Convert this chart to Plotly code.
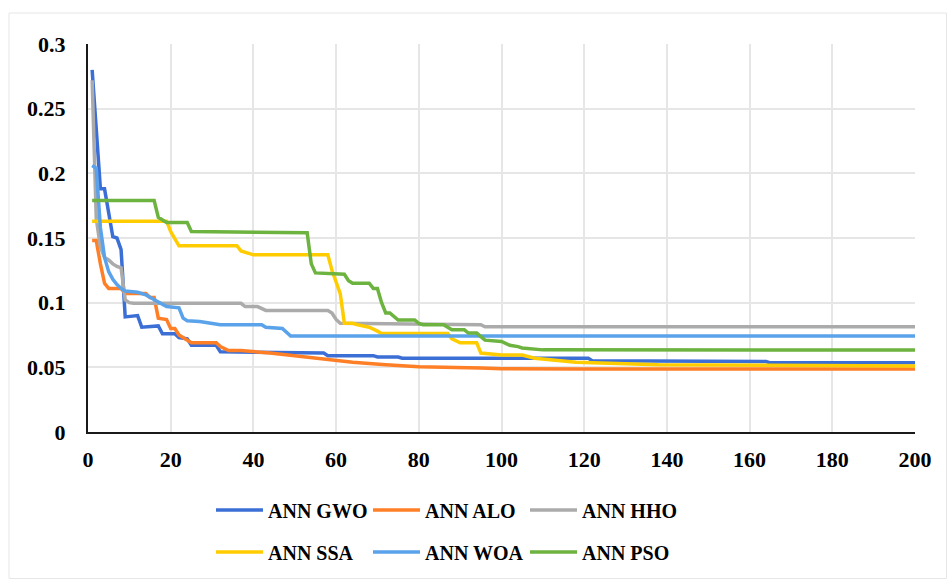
import plotly.graph_objects as go

# ---- data (breakpoints) ----
gwo_x = [1, 3, 4, 5, 6, 7, 8, 9, 12, 13, 17, 18, 21, 22, 24, 25, 31, 32, 57, 58, 69, 70, 75, 76, 121, 122, 150, 151, 164, 165, 200]
gwo_y = [0.28, 0.188, 0.188, 0.17, 0.151, 0.15, 0.141, 0.089, 0.09, 0.081, 0.082, 0.076, 0.076, 0.073, 0.072, 0.067, 0.067, 0.062, 0.061, 0.059, 0.059, 0.058, 0.058, 0.057, 0.057, 0.055, 0.055, 0.0545, 0.0545, 0.0535, 0.0535]

alo_x = [1, 2, 3, 4, 5, 8, 9, 14, 15, 16, 17, 19, 20, 21, 22, 24, 25, 31, 32, 34, 37, 44, 48, 56, 64, 72, 80, 95, 100, 120, 200]
alo_y = [0.148, 0.148, 0.13, 0.115, 0.111, 0.111, 0.107, 0.107, 0.104, 0.104, 0.088, 0.087, 0.080, 0.080, 0.075, 0.071, 0.069, 0.069, 0.066, 0.063, 0.063, 0.061, 0.0595, 0.057, 0.054, 0.052, 0.0505, 0.0495, 0.049, 0.0487, 0.0487]

hho_x = [1, 2, 3, 4, 5, 6, 7, 8, 9, 10, 11, 37, 38, 41, 43, 58, 59, 60, 61, 95, 96, 200]
hho_y = [0.272, 0.165, 0.143, 0.135, 0.133, 0.13, 0.128, 0.127, 0.102, 0.1, 0.0995, 0.0995, 0.097, 0.097, 0.094, 0.094, 0.092, 0.087, 0.084, 0.083, 0.0814, 0.0814]

ssa_x = [1, 19, 20, 22, 36, 37, 40, 58, 59, 61, 62, 64, 65, 68, 70, 71, 87, 88, 90, 94, 95, 99, 100, 105, 108, 118, 126, 138, 200]
ssa_y = [0.163, 0.163, 0.155, 0.144, 0.144, 0.14, 0.137, 0.137, 0.125, 0.107, 0.084, 0.084, 0.083, 0.081, 0.078, 0.0762, 0.0762, 0.072, 0.069, 0.069, 0.061, 0.060, 0.0595, 0.0595, 0.057, 0.054, 0.053, 0.052, 0.051]

woa_x = [1, 2, 3, 4, 5, 6, 7, 8, 9, 12, 14, 16, 17, 19, 22, 23, 24, 27, 31, 32, 42, 43, 47, 48, 49, 200]
woa_y = [0.206, 0.204, 0.158, 0.135, 0.124, 0.118, 0.114, 0.111, 0.109, 0.108, 0.106, 0.102, 0.1005, 0.097, 0.096, 0.088, 0.086, 0.0855, 0.084, 0.083, 0.083, 0.081, 0.08, 0.077, 0.0742, 0.0742]

pso_x = [1, 16, 17, 19, 24, 25, 53, 54, 55, 62, 63, 64, 68, 69, 70, 71, 72, 73, 75, 76, 79, 80, 81, 86, 88, 91, 92, 94, 96, 100, 102, 104, 105, 110, 200]
pso_y = [0.179, 0.179, 0.166, 0.162, 0.162, 0.155, 0.154, 0.13, 0.123, 0.122, 0.117, 0.115, 0.115, 0.111, 0.111, 0.1, 0.092, 0.092, 0.0866, 0.0866, 0.0866, 0.084, 0.083, 0.083, 0.079, 0.079, 0.0765, 0.0765, 0.071, 0.070, 0.067, 0.066, 0.065, 0.0635, 0.0634]

names = ["ANN GWO", "ANN ALO", "ANN HHO", "ANN SSA", "ANN WOA", "ANN PSO"]
colors = ["#3B6FD6", "#FF7F27", "#ABABAB", "#FFCC00", "#5AA2EA", "#6CB33F"]
series = [(gwo_x, gwo_y), (alo_x, alo_y), (hho_x, hho_y), (ssa_x, ssa_y), (woa_x, woa_y), (pso_x, pso_y)]
legends = ["legend", "legend", "legend", "legend2", "legend2", "legend2"]

FONT = dict(family="Liberation Serif", size=20, color="black", weight="bold")
TICKFONT = dict(family="Liberation Serif", size=22, color="black", weight="bold")

fig = go.Figure()
for (xs, ys), n, c, lg in zip(series, names, colors, legends):
    fig.add_trace(go.Scatter(x=xs, y=ys, mode="lines", name=n, legend=lg,
                             line=dict(color=c, width=3.5)))

W, H = 947, 579
L, R, T, B = 88, 32, 44, 147
pw, ph = W - L - R, H - T - B

def px2paper_x(px):
    return (px - L) / pw

def px2paper_y(py):
    return (H - B - py) / ph

leg_common = dict(orientation="h", xref="container", yref="container", xanchor="left", yanchor="middle",
                  font=FONT, entrywidth=95, itemwidth=47, bgcolor="rgba(0,0,0,0)")

fig.update_layout(
    width=W, height=H,
    margin=dict(l=L, r=R, t=T, b=B, autoexpand=False),
    paper_bgcolor="white", plot_bgcolor="white",
    font=FONT,
    legend=dict(x=211 / W, y=1 - 510 / H, **leg_common),
    legend2=dict(x=211 / W, y=1 - 552 / H, **leg_common),
    shapes=[dict(type="rect", xref="paper", yref="paper",
                 x0=px2paper_x(9), x1=px2paper_x(946.5), y0=px2paper_y(578.5), y1=px2paper_y(13),
                 line=dict(color="#E6E6E6", width=1), fillcolor="rgba(0,0,0,0)", layer="below")],
)

fig.update_xaxes(range=[0, 200], dtick=20, tick0=0, showgrid=True, gridcolor="#E6E6E6", gridwidth=1.5,
                 showline=True, linecolor="#1a1a1a", linewidth=2, zeroline=False, ticks="",
                 ticklabelstandoff=7, tickfont=TICKFONT, mirror=False)
fig.update_yaxes(range=[0, 0.3], dtick=0.05, tick0=0, showgrid=True, gridcolor="#E6E6E6", gridwidth=1.5,
                 showline=True, linecolor="#1a1a1a", linewidth=2, zeroline=False, ticks="",
                 ticklabelstandoff=16, tickfont=TICKFONT)

fig.write_html("out.html", config={"displayModeBar": False},
               post_script="document.body.style.margin='0';")
